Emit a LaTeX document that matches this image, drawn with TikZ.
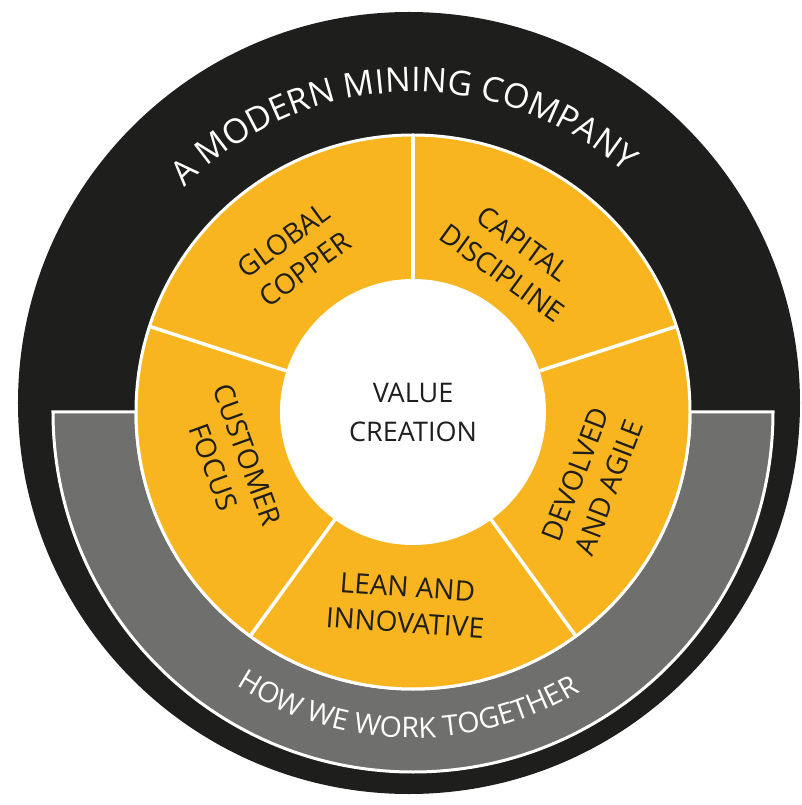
\documentclass[tikz,border=0pt]{standalone}
\usepackage{fontspec}
\setmainfont{Open Sans}
\usetikzlibrary{decorations.text}
\definecolor{ringblack}{HTML}{1E1E1C}
\definecolor{bandgrey}{HTML}{6F6F6E}
\definecolor{segyellow}{HTML}{F8B51F}
\begin{document}
\begin{tikzpicture}[x=1pt, y=1pt,
  sector/.style={align=center, text=ringblack, inner sep=0pt, font=\fontsize{28}{36}\selectfont},
  rim/.style={draw=white, line width=3pt}]
\useasboundingbox (-413,-393) rectangle (388,412);
\clip (-413,-393) rectangle (388,412);
\fill[ringblack] (-4,9) circle[radius=391pt];
\draw[rim, fill=bandgrey] (0:360) arc[start angle=0, end angle=-180, radius=360pt] -- (180:277) arc[start angle=180, end angle=360, radius=277pt] -- cycle;
\draw[rim, fill=segyellow] (0,0) circle[radius=277pt];
\foreach \a in {18,90,162,234,306}
  \draw[white, line width=3.5pt] (\a:130) -- (\a:277);
\fill[white] (0,0) circle[radius=133pt];
\node[sector, font=\fontsize{27}{39}\selectfont] (value) at (0,0) {VALUE\\CREATION};
\node[sector, rotate=36] (global) at (127:197) {GLOBAL\\COPPER};
\node[sector, rotate=-36] (capital) at (57:183) {CAPITAL\\DISCIPLINE};
\node[sector, rotate=69] (devolved) at (-21:192) {DEVOLVED\\AND AGILE};
\node[sector, rotate=-70] (customer) at (195:189) {CUSTOMER\\FOCUS};
\node[sector, rotate=-4] (lean) at (268:193) {LEAN AND\\INNOVATIVE};
\path[decorate, decoration={text along path, text align=center, text color=white,
  text={|\fontsize{34}{34}\selectfont|A MODERN MINING COMPANY}}]
  (139:320) arc[start angle=139, end angle=45, radius=320pt];
\path[decorate, decoration={text along path, text align=center, text color=white,
  text={|\fontsize{28.5}{28.5}\selectfont|HOW WE WORK TOGETHER}}]
  (233:326) arc[start angle=233, end angle=305, radius=326pt];
\end{tikzpicture}
\end{document}
